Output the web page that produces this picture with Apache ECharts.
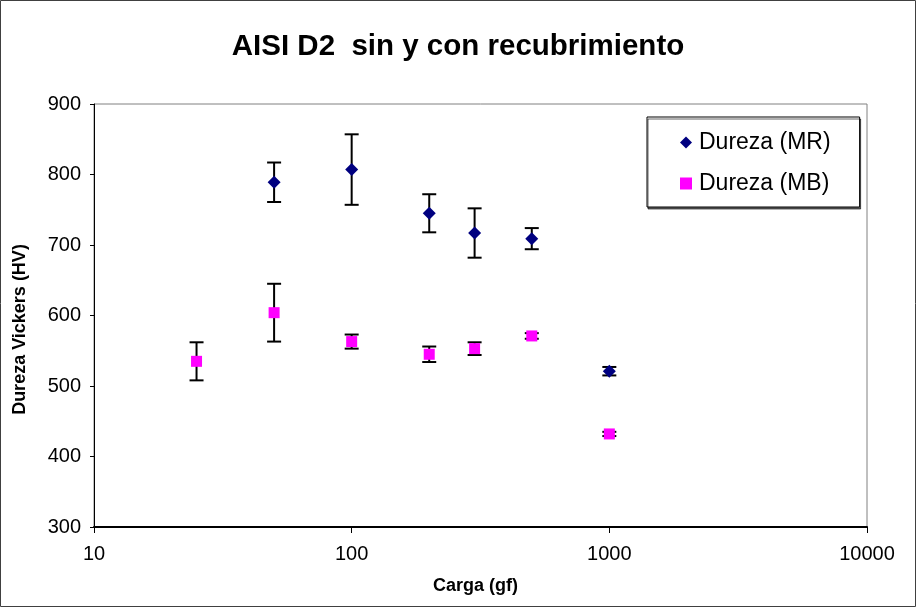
<!DOCTYPE html>
<html>
<head>
<meta charset="utf-8">
<script src="https://cdn.jsdelivr.net/npm/echarts@6/dist/echarts.min.js"></script>
<style>
  html, body { margin: 0; padding: 0; background: #fff; }
  #chart { width: 916px; height: 608px; }
</style>
</head>
<body>
<div id="chart"></div>
<script>
// Load (gf) and Vickers hardness readings with their deviations
const loadsMR = [50, 100, 200, 300, 500, 1000];
const hardMR  = [789, 807, 745, 717, 709, 521];
const errMR   = [28, 50, 27, 35, 15, 6];

const loadsMB = [25, 50, 100, 200, 300, 500, 1000];
const hardMB  = [535, 604, 563, 545, 553, 571, 432];
const errMB   = [27, 41, 10, 11, 9, 4, 3];

const xTicks = [10, 100, 1000, 10000];
const yTicks = [300, 400, 500, 600, 700, 800, 900];

const FONT = 'Liberation Sans, Arial, sans-serif';

function points(xs, ys) { return xs.map((x, i) => [x, ys[i]]); }
function bars(xs, ys, es) { return xs.map((x, i) => [x, ys[i] - es[i], ys[i] + es[i]]); }

// Vertical error bar with caps
function renderErr(params, api) {
  const lo = api.coord([api.value(0), api.value(1)]);
  const hi = api.coord([api.value(0), api.value(2)]);
  const w = 7;
  const style = { stroke: '#000', lineWidth: 2 };
  return {
    type: 'group',
    children: [
      { type: 'line', shape: { x1: lo[0], y1: lo[1], x2: hi[0], y2: hi[1] }, style },
      { type: 'line', shape: { x1: lo[0] - w, y1: lo[1], x2: lo[0] + w, y2: lo[1] }, style },
      { type: 'line', shape: { x1: hi[0] - w, y1: hi[1], x2: hi[0] + w, y2: hi[1] }, style }
    ]
  };
}

const chart = echarts.init(document.getElementById('chart'), null, { renderer: 'canvas' });
chart.setOption({
  backgroundColor: '#fff',
  animation: false,
  title: {
    text: 'AISI D2  sin y con recubrimiento',
    left: 'center',
    top: 27,
    textStyle: { fontFamily: FONT, fontSize: 29.5, fontWeight: 'bold', color: '#000' }
  },
  legend: {
    orient: 'vertical',
    left: 647,
    top: 117,
    padding: [14, 29, 12, 33],
    itemGap: 18,
    itemWidth: 12,
    itemHeight: 12,
    borderColor: '#000',
    borderWidth: 1,
    backgroundColor: '#fff',
    shadowColor: 'rgba(0,0,0,0.6)',
    shadowOffsetX: 1,
    shadowOffsetY: 2,
    textStyle: { fontFamily: FONT, fontSize: 23, color: '#000', padding: [0, 0, 0, 2] },
    data: [
      { name: 'Dureza (MR)', icon: 'diamond' },
      { name: 'Dureza (MB)', icon: 'rect' }
    ]
  },
  grid: { left: 94, right: 49, top: 104, bottom: 81, show: true, borderColor: '#808080', borderWidth: 1 },
  xAxis: {
    type: 'log',
    logBase: 10,
    min: xTicks[0],
    max: xTicks[xTicks.length - 1],
    name: 'Carga (gf)',
    nameLocation: 'middle',
    nameGap: 50,
    nameTextStyle: { fontFamily: FONT, fontSize: 18, fontWeight: 'bold', color: '#000', padding: [0, 10, 0, 0] },
    axisLine: { lineStyle: { color: '#000', width: 2 } },
    axisTick: { show: true, length: 6, lineStyle: { color: '#000' } },
    minorTick: { show: false },
    splitLine: { show: false },
    axisLabel: { fontFamily: FONT, fontSize: 20, color: '#000', margin: 17, formatter: v => String(v) }
  },
  yAxis: {
    type: 'value',
    min: yTicks[0],
    max: yTicks[yTicks.length - 1],
    interval: 100,
    name: 'Dureza Vickers (HV)',
    nameLocation: 'middle',
    nameGap: 65,
    nameTextStyle: { fontFamily: FONT, fontSize: 18, fontWeight: 'bold', color: '#000', padding: [0, 28, 0, 0] },
    axisLine: { show: true, lineStyle: { color: '#000', width: 1 } },
    axisTick: { show: true, length: 4, lineStyle: { color: '#000' } },
    splitLine: { show: false },
    axisLabel: { fontFamily: FONT, fontSize: 20, color: '#000', margin: 13 }
  },
  graphic: [{
    type: 'rect',
    shape: { x: 0.5, y: 0.5, width: 915, height: 606 },
    style: { fill: 'none', stroke: '#404040', lineWidth: 1 },
    silent: true,
    z: -1
  }],
  series: [
    {
      name: 'errMR', type: 'custom', renderItem: renderErr,
      data: bars(loadsMR, hardMR, errMR), encode: { x: 0, y: [1, 2] }, z: 1, silent: true
    },
    {
      name: 'errMB', type: 'custom', renderItem: renderErr,
      data: bars(loadsMB, hardMB, errMB), encode: { x: 0, y: [1, 2] }, z: 1, silent: true
    },
    {
      name: 'Dureza (MR)', type: 'scatter', symbol: 'diamond', symbolSize: 13,
      itemStyle: { color: '#000080', opacity: 1 }, data: points(loadsMR, hardMR), z: 3
    },
    {
      name: 'Dureza (MB)', type: 'scatter', symbol: 'rect', symbolSize: 11,
      itemStyle: { color: '#FF00FF', opacity: 1 }, data: points(loadsMB, hardMB), z: 3
    }
  ]
});
</script>
</body>
</html>
